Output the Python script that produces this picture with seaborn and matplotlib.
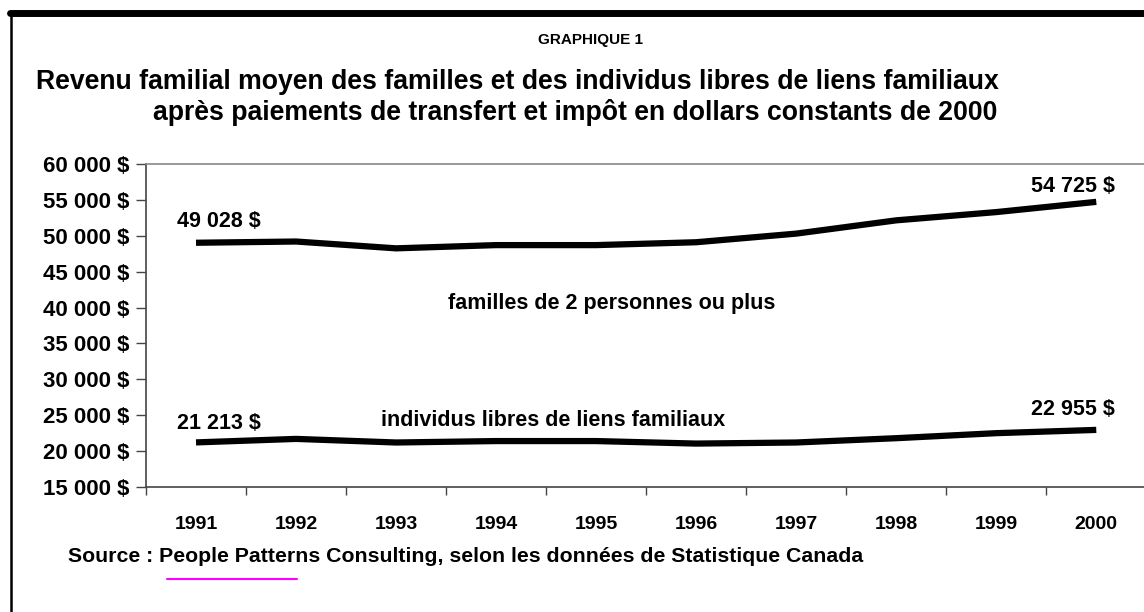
import numpy as np
import pandas as pd
import matplotlib
matplotlib.use("Agg")
import matplotlib.pyplot as plt
import seaborn as sns
from matplotlib.lines import Line2D
from matplotlib.patches import Rectangle

years = [1991, 1992, 1993, 1994, 1995, 1996, 1997, 1998, 1999, 2000]
familles = [49028, 49200, 48250, 48700, 48700, 49100, 50300, 52150, 53300, 54725]
individus = [21213, 21700, 21200, 21400, 21400, 21050, 21200, 21800, 22500, 22955]
y_ticks = [15000, 20000, 25000, 30000, 35000, 40000, 45000, 50000, 55000, 60000]


def fmt(v):
    return "{:,}".format(v).replace(",", " ") + " $"


sns.set_style("white")
plt.rcParams['font.family'] = ['Liberation Sans', 'DejaVu Sans']
plt.rcParams['font.weight'] = 'bold'
plt.rcParams['text.color'] = 'black'
plt.rcParams['xtick.color'] = 'black'
plt.rcParams['ytick.color'] = 'black'

df = pd.DataFrame({
    'pos': list(range(len(years))) * 2,
    'revenu': familles + individus,
    'serie': ['familles'] * len(years) + ['individus'] * len(years),
})

fig = plt.figure(figsize=(11.44, 6.12), dpi=100)
ax = fig.add_axes([146 / 1144, 1 - 487 / 612, 1 - 146 / 1144 + 0.002, (487 - 164) / 612])

sns.lineplot(data=df, x='pos', y='revenu', units='serie', estimator=None,
             color='black', linewidth=4.5, ax=ax, solid_capstyle='butt')

ax.set_xlim(-0.5, 9.5)
ax.set_ylim(15000, 60000)
ax.set_yticks(y_ticks)
ax.set_yticklabels([fmt(v) for v in y_ticks], fontsize=16, fontweight='bold')
ax.set_xticks(np.arange(-0.5, 10, 1))
ax.set_xticklabels([])
ax.set_xticks(range(len(years)), minor=True)
ax.set_xticklabels([str(y) for y in years], minor=True, fontsize=14, fontweight='bold')
ax.tick_params(axis='x', which='major', bottom=True, length=6, width=1, color='#444444', direction='out')
ax.tick_params(axis='x', which='minor', bottom=True, length=0, pad=21)
ax.tick_params(axis='y', left=True, length=7, width=1, color='#444444', direction='out', pad=5)
ax.set_xlabel('')
ax.set_ylabel('')
for s in ['left', 'bottom']:
    ax.spines[s].set_color('#444444')
    ax.spines[s].set_linewidth(1.2)
ax.spines['top'].set_color('#888888')
ax.spines['top'].set_linewidth(1.2)
ax.spines['right'].set_visible(False)

# value labels
lab = dict(ha='center', va='center', fontsize=15.5, fontweight='bold')
ax.text(0.23, 51920, fmt(familles[0]), **lab)
ax.text(8.77, 56800, fmt(familles[-1]), **lab)
ax.text(0.23, 23780, fmt(individus[0]), **lab)
ax.text(8.77, 25730, fmt(individus[-1]), **lab)

ax.text(4.16, 40500, "familles de 2 personnes ou plus", **lab)
t = ax.text(3.57, 23500, "individus libres de liens familiaux", ha='center', va='baseline',
            fontsize=15.5, fontweight='bold')
clip = Rectangle((-0.5, 23918), 10, 10000, transform=ax.transData, visible=False)
ax.add_patch(clip)
t.set_clip_path(clip)

# titles
fig.text(590 / 1144, 1 - 40 / 612, "GRAPHIQUE 1", ha='center', va='center', fontsize=11, fontweight='bold')
fig.text(36 / 1144, 1 - 82 / 612, "Revenu familial moyen des familles et des individus libres de liens familiaux",
         ha='left', va='center', fontsize=19.2, fontweight='bold')
fig.text(153 / 1144, 1 - 113 / 612, "après paiements de transfert et impôt en dollars constants de 2000",
         ha='left', va='center', fontsize=19.2, fontweight='bold')
fig.text(68 / 1144, 1 - 556 / 612, "Source : People Patterns Consulting, selon les données de Statistique Canada",
         ha='left', va='center', fontsize=15.3, fontweight='bold')

# frame and marker line
fig.add_artist(Line2D([10 / 1144, 1], [1 - 13 / 612, 1 - 13 / 612], color='black', linewidth=5, transform=fig.transFigure))
fig.add_artist(Line2D([11 / 1144, 11 / 1144], [0, 1 - 13 / 612], color='black', linewidth=1.8, transform=fig.transFigure))
fig.add_artist(Line2D([167 / 1144, 297 / 1144], [1 - 579 / 612, 1 - 579 / 612], color='#ff00ff', linewidth=1.5, transform=fig.transFigure))

fig.savefig("out.png", dpi=100)
